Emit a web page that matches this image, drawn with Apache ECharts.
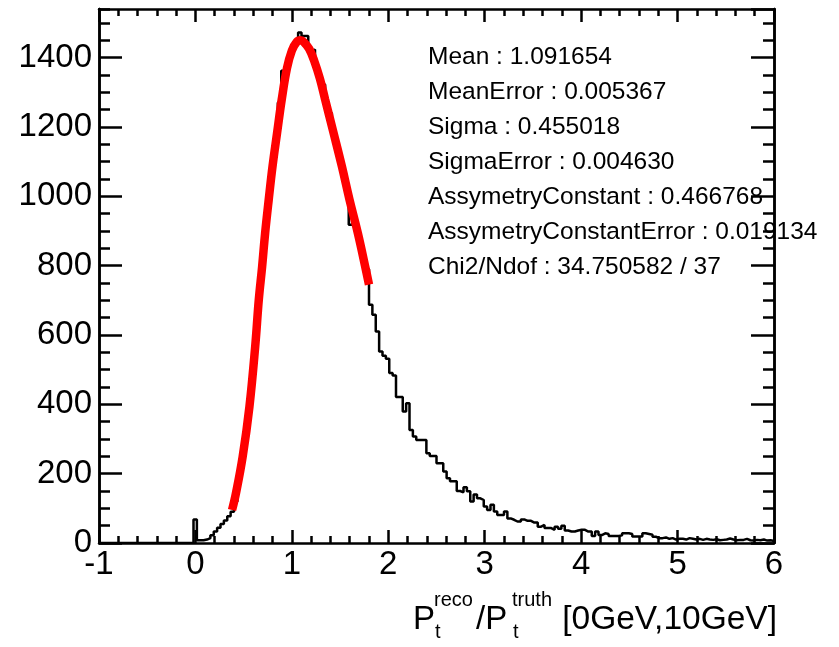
<!DOCTYPE html>
<html>
<head>
<meta charset="utf-8">
<script src="https://cdn.jsdelivr.net/npm/echarts@6/dist/echarts.min.js"></script>
<style>
html,body{margin:0;padding:0;background:#fff;}
#c{width:839px;height:647px;}
</style>
</head>
<body>
<div id="c"></div>
<script>
// ---------- data ----------
// histogram binning: 200 bins from -1 to 6
const binStart = -1;
const binWidth = 0.035;
// bin contents
const counts = [
  0,0,0,0,0,0,0,0,0,0,
  0,0,0,0,0,0,0,0,0,0,
  0,0,0,0,0,0,0,0,
  68,8,8,10,14,22,33,44,55,65,77,90,
  120,180,245,310,385,480,590,715,815,925,
  1010,1095,1165,1270,1362,1355,1400,1418,1440,1472,
  1462,1462,1420,1423,1375,1340,1322,1255,1240,1185,
  1135,1100,1060,1020,918,950,900,860,820,790,
  687,658,610,552,540,531,490,483,421,421,
  379,403,326,307,297,297,297,259,251,251,
  230,230,206,187,178,178,150,146,161,149,
  120,140,129,124,105,95,110,91,81,81,
  91,71,67,62,62,68,64,64,59,59,
  47,52,43,43,38,47,41,50,36,33,
  33,36,38,38,33,33,20,33,23,28,
  26,20,20,20,22,28,28,26,19,19,
  19,28,26,24,18,14,14,16,12,14,
  10,12,12,10,14,12,10,12,9,12,
  10,9,11,8,9,10,13,10,8,9,
  9,12,8,7,9,8,10,7,8,6
];
// fitted curve points
const fitX = [0.38,0.42,0.49,0.56,0.62,0.657,0.692,0.723,0.76,0.80,0.847,0.895,0.95,1.0,1.05,1.09,1.13,1.18,1.23,1.29,1.345,1.432,1.518,1.598,1.684,1.76,1.80];
const fitY = [95,143,249,393,567,701,798,894,990,1087,1183,1279,1370,1420,1445,1450,1443,1425,1392,1340,1279,1183,1087,990,894,798,745];
// statistics box
const statNames = ['Mean','MeanError','Sigma','SigmaError','AssymetryConstant','AssymetryConstantError','Chi2/Ndof'];
const statValues = ['1.091654','0.005367','0.455018','0.004630','0.466768','0.019134','34.750582 / 37'];
// axis ranges / ticks
const xRange = [-1, 6];
const xMajor = 1, xMinorSplit = 5;
const yRange = [0, 1540];
const yMajor = 200, yMinor = 50;

// ---------- build ----------
const FONT = '"Liberation Sans", Arial, Helvetica, sans-serif';
const histData = counts.map((c, i) => [binStart + i * binWidth, c]);
histData.push([binStart + counts.length * binWidth, counts[counts.length - 1]]);
const fitData = fitX.map((x, i) => [x, fitY[i]]);

const lineStyle = {color:'#000', width:2.5};
function xAx(pos, showLabel){
  return {
    type:'value', min:xRange[0], max:xRange[1], interval:xMajor, position:pos,
    axisLine:{show:true, onZero:false, lineStyle},
    axisTick:{show:true, inside:true, length:13, lineStyle},
    minorTick:{show:true, splitNumber:xMinorSplit, length:7, lineStyle},
    splitLine:{show:false}, minorSplitLine:{show:false},
    axisLabel:{show:showLabel, fontSize:33, color:'#000', fontFamily:FONT, margin:5,
      formatter:v=>String(v)}
  };
}
function yAx(pos, interval, len, showLabel){
  return {
    type:'value', min:yRange[0], max:yRange[1], interval:interval, position:pos,
    axisLine:{show:true, onZero:false, lineStyle},
    axisTick:{show:true, inside:true, length:len, lineStyle},
    splitLine:{show:false},
    axisLabel:{show:showLabel, fontSize:33, color:'#000', fontFamily:FONT, margin:7,
      showMaxLabel:false, formatter:v=>String(v)}
  };
}

const graphics = [];
statNames.forEach((n, i) => {
  graphics.push({type:'text', left:428, top:45 + i*35,
    style:{text:n + ' : ' + statValues[i], font:'24.5px ' + FONT, fill:'#000'}});
});
// axis title pieces
const tY = 603;
graphics.push({type:'text', x:413, y:tY, style:{text:'P', font:'33px '+FONT, fill:'#000'}});
graphics.push({type:'text', x:434, y:tY-13, style:{text:'reco', font:'20px '+FONT, fill:'#000'}});
graphics.push({type:'text', x:435, y:tY+19, style:{text:'t', font:'20px '+FONT, fill:'#000'}});
graphics.push({type:'text', x:476, y:tY, style:{text:'/P', font:'33px '+FONT, fill:'#000'}});
graphics.push({type:'text', x:512, y:tY-13, style:{text:'truth', font:'20px '+FONT, fill:'#000'}});
graphics.push({type:'text', x:513, y:tY+19, style:{text:'t', font:'20px '+FONT, fill:'#000'}});
graphics.push({type:'text', x:777, y:tY, style:{text:'[0GeV,10GeV]', font:'33.5px '+FONT, fill:'#000', align:'right'}});

const chart = echarts.init(document.getElementById('c'), null, {renderer:'canvas'});
chart.setOption({
  animation:false,
  backgroundColor:'#fff',
  grid:{left:99, right:65, top:9, bottom:104, containLabel:false},
  xAxis:[xAx('bottom', true), xAx('top', false)],
  yAxis:[
    yAx('left', yMajor, 23, true),
    yAx('left', yMinor, 11, false),
    yAx('right', yMajor, 23, false),
    yAx('right', yMinor, 11, false)
  ],
  series:[
    {type:'line', data:histData, step:'end', showSymbol:false, symbol:'none',
     lineStyle:{color:'#000', width:2.5}, xAxisIndex:0, yAxisIndex:0, z:3},
    {type:'line', data:fitData, smooth:0.4, showSymbol:false, symbol:'none',
     lineStyle:{color:'#ff0000', width:8.5}, xAxisIndex:0, yAxisIndex:0, z:4}
  ],
  graphic:graphics
});
</script>
</body>
</html>
